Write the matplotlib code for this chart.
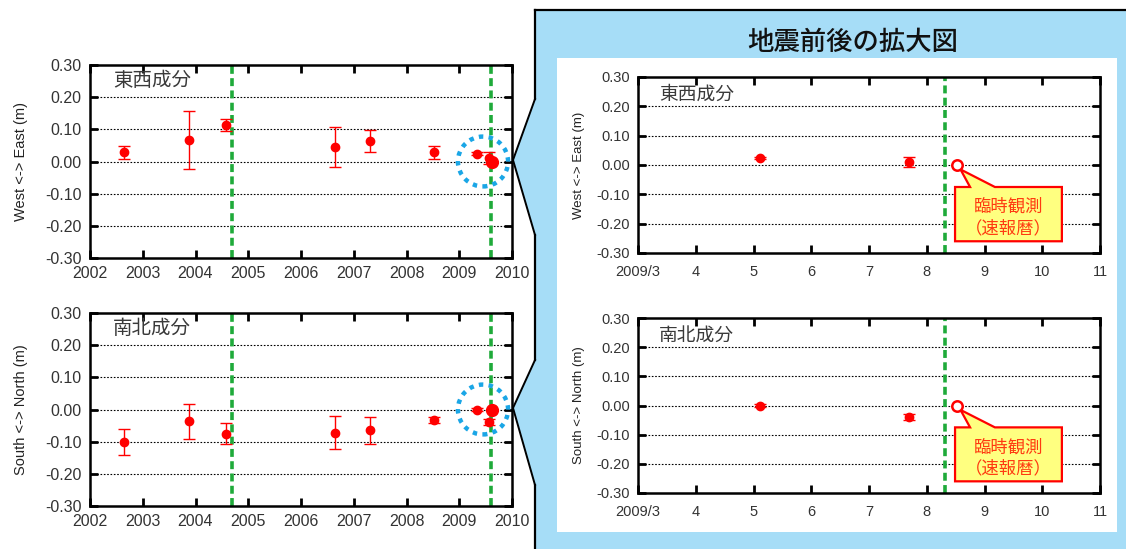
import numpy as np
import matplotlib.pyplot as plt
from matplotlib.patches import Rectangle, Polygon, Ellipse
from matplotlib.lines import Line2D

plt.rcParams['font.family'] = ['Liberation Sans', 'Noto Sans CJK JP', 'DejaVu Sans']
JP = ['Noto Sans CJK JP', 'DejaVu Sans']

# observation epochs (decimal year) and displacements (m)
years = [2002.65, 2003.87, 2004.58, 2006.64, 2007.30, 2008.53, 2009.342, 2009.558]
ew = [0.028, 0.068, 0.113, 0.044, 0.063, 0.028, 0.024, 0.010]
ew_err = [0.021, 0.090, 0.019, 0.062, 0.035, 0.020, 0.004, 0.018]
ns = [-0.100, -0.037, -0.075, -0.072, -0.065, -0.032, 0.0, -0.039]
ns_err = [0.040, 0.054, 0.033, 0.051, 0.041, 0.009, 0.004, 0.010]

# temporary observation (rapid ephemeris)
rapid_year = 2009.627
rapid_ew = 0.0
rapid_ns = 0.0

quake_years = [2004.69, 2009.61]
zoom_start = 2009.25

left_xticks = list(range(2002, 2011))
right_xticks = [3, 4, 5, 6, 7, 8, 9, 10, 11]
right_xlabels = ['2009/3', '4', '5', '6', '7', '8', '9', '10', '11']
yticks = [-0.3, -0.2, -0.1, 0.0, 0.1, 0.2, 0.3]

W, H = 1126, 549
fig = plt.figure(figsize=(W / 100, H / 100), dpi=100)


def fx(x):
    return x / W


def fy(y):
    return 1 - y / H


def to_month(y):
    return 1 + (np.asarray(y) - 2009) * 12


RED = '#ff0000'
GREEN = '#1faa3a'
BLUE_BG = '#a6ddf7'
DOT_BLUE = '#1aa6e6'

# blue panel + white inner area
fig.add_artist(Rectangle((fx(535), 0), 1 - fx(535), fy(10), transform=fig.transFigure,
                         facecolor=BLUE_BG, edgecolor='none', zorder=-3))
fig.add_artist(Rectangle((fx(557), fy(532)), fx(1117) - fx(557), fy(58) - fy(532),
                         transform=fig.transFigure, facecolor='white', edgecolor='none', zorder=-2))
fig.add_artist(Line2D([fx(535), 1], [fy(10), fy(10)], transform=fig.transFigure, color='black', lw=1.6))
for y0, y1 in [(10, 99), (235, 360), (485, 549)]:
    fig.add_artist(Line2D([fx(535), fx(535)], [fy(y0), fy(y1)], transform=fig.transFigure,
                          color='black', lw=1.6))
for top, mid, bot in [(99, 160, 235), (360, 408, 485)]:
    pts = [(fx(535), fy(top)), (fx(513), fy(mid)), (fx(535), fy(bot))]
    fig.add_artist(Polygon(pts, closed=True, transform=fig.transFigure, facecolor=BLUE_BG,
                           edgecolor='none', zorder=-3))
    fig.add_artist(Line2D([p[0] for p in pts], [p[1] for p in pts], transform=fig.transFigure,
                          color='black', lw=1.4))

fig.text(fx(853), fy(42), '地震前後の拡大図', ha='center', va='center', fontsize=19,
         fontweight='medium', family=JP, color='#111111')


def style_axes(ax, size):
    ax.set_ylim(-0.3, 0.3)
    ax.set_yticks(yticks)
    ax.set_yticklabels(['%.2f' % v for v in yticks])
    ax.tick_params(direction='in', length=6, width=2, top=True, right=True,
                   labelsize=size, labelcolor='#333333', pad=6)
    for s in ax.spines.values():
        s.set_linewidth(1.8)
    for v in yticks[1:-1]:
        ax.axhline(v, color='black', lw=0.8, ls=(0, (1.5, 1.5)), zorder=1)


comps = [('東西成分', 'West <-> East (m)', ew, ew_err, rapid_ew),
         ('南北成分', 'South <-> North (m)', ns, ns_err, rapid_ns)]
left_boxes = [(90, 65, 512, 258), (90, 313, 512, 506)]
right_boxes = [(638, 77, 1100, 253), (638, 318, 1100, 493)]

for (name, ylab, vals, errs, rapid), lb, rb in zip(comps, left_boxes, right_boxes):
    # overall time series
    ax = fig.add_axes([fx(lb[0]), fy(lb[3]), fx(lb[2]) - fx(lb[0]), fy(lb[1]) - fy(lb[3])])
    style_axes(ax, 11.5)
    ax.set_xlim(2002, 2010)
    ax.set_xticks(left_xticks)
    for q in quake_years:
        ax.axvline(q, color=GREEN, lw=2.6, ls=(0, (2.2, 1.2)), zorder=2)
    ax.errorbar(years, vals, yerr=errs, fmt='o', color=RED, ms=6, elinewidth=1,
                capsize=4, capthick=1, zorder=4)
    ax.plot([rapid_year], [rapid], 'o', color=RED, ms=8.5, zorder=4)
    ax.add_patch(Ellipse((2009.45, 0.0), 0.95, 0.155, fill=False, edgecolor=DOT_BLUE,
                         lw=3.2, ls=(0, (1, 1.2)), zorder=5, clip_on=False))
    ax.text(0.055, 0.92, name, transform=ax.transAxes, fontsize=14, family=JP,
            color='#3a3a3a', va='center', ha='left')
    ax.set_ylabel(ylab, fontsize=10.5, color='#222222', labelpad=12)

    # zoom around the earthquake
    axr = fig.add_axes([fx(rb[0]), fy(rb[3]), fx(rb[2]) - fx(rb[0]), fy(rb[1]) - fy(rb[3])])
    style_axes(axr, 10.5)
    axr.set_xlim(3, 11)
    axr.set_xticks(right_xticks)
    axr.set_xticklabels(right_xlabels)
    axr.tick_params(axis='x', pad=9)
    axr.axvline(to_month(quake_years[1]), color=GREEN, lw=2.6, ls=(0, (2.2, 1.2)), zorder=2)
    sel = [i for i, y in enumerate(years) if y >= zoom_start]
    axr.errorbar(to_month([years[i] for i in sel]), [vals[i] for i in sel],
                 yerr=[errs[i] for i in sel], fmt='o', color=RED, ms=6, elinewidth=1,
                 capsize=4, capthick=1, zorder=4)
    rm = float(to_month(rapid_year))
    axr.plot([rm], [rapid], 'o', mfc='white', mec=RED, mew=1.8, ms=7.5, zorder=6)
    # callout
    ytop, ybot = -0.075, -0.26
    shape = [(8.49, ytop), (8.75, ytop), (rm + 0.06, rapid - 0.015), (9.18, ytop),
             (10.34, ytop), (10.34, ybot), (8.49, ybot)]
    axr.add_patch(Polygon(shape, closed=True, facecolor='#ffff80', edgecolor=RED, lw=1.6,
                          zorder=5, clip_on=False))
    axr.text(9.415, -0.143, '臨時観測', ha='center', va='center', fontsize=12.5, family=JP,
             color='#ff3a10', zorder=7)
    axr.text(9.415, -0.215, '（速報暦）', ha='center', va='center', fontsize=12.5, family=JP,
             color='#ff3a10', zorder=7)
    axr.text(0.045, 0.90, name, transform=axr.transAxes, fontsize=13.5, family=JP,
             color='#3a3a3a', va='center', ha='left')
    axr.set_ylabel(ylab, fontsize=9.5, color='#222222', labelpad=8)

fig.savefig('out.png', dpi=100)
